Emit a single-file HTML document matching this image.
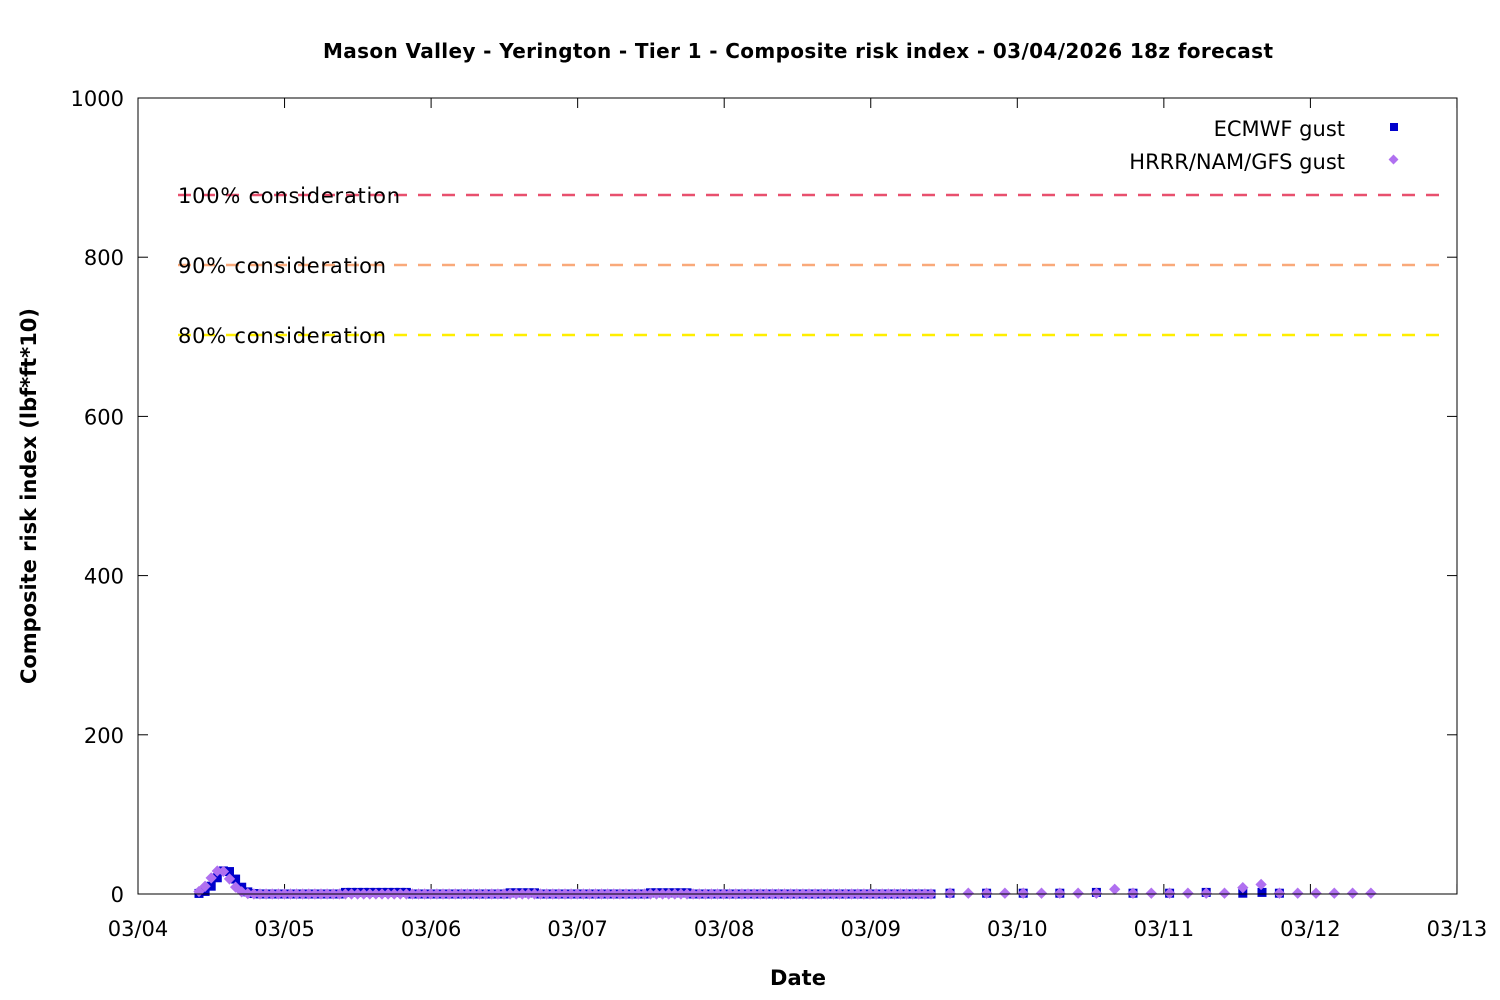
<!DOCTYPE html>
<html><head><style>body{margin:0;background:#fff}svg{display:block}text{font-family:"DejaVu Sans","Liberation Sans",sans-serif}</style></head>
<body>
<svg id="s" width="1500" height="1000" xmlns="http://www.w3.org/2000/svg">
<rect width="1500" height="1000" fill="#fff"/>
<text x="798" y="58" text-anchor="middle" font-size="20" font-weight="bold" textLength="950">Mason Valley - Yerington - Tier 1 - Composite risk index - 03/04/2026 18z forecast</text>
<text x="798" y="985" text-anchor="middle" font-size="21" font-weight="bold">Date</text>
<text transform="translate(36,496) rotate(-90)" text-anchor="middle" font-size="21" font-weight="bold" textLength="376">Composite risk index (lbf*ft*10)</text>
<g id="g"></g>
<rect x="138" y="98" width="1319" height="796" fill="none" stroke="#000" stroke-width="1"/>
<g font-size="21">
<text x="1345" y="136" text-anchor="end">ECMWF gust</text>
<text x="1345" y="169" text-anchor="end">HRRR/NAM/GFS gust</text>
</g>
<rect x="1390" y="123" width="8" height="8" fill="#0000cc"/>
<rect x="1390" y="156" width="7" height="7" fill="#b070f0" transform="rotate(45 1393.5 159.5)"/>
</svg>
<script>
const g=document.getElementById('g');let h='';
const X0=138,DX=146.55,Y0=894,SY=0.796;
const y=v=>Y0-v*SY;
for(let v=0;v<=1000;v+=200){const yy=y(v);h+=`<line x1="138" x2="148" y1="${yy}" y2="${yy}" stroke="#000"/><line x1="1447" x2="1457" y1="${yy}" y2="${yy}" stroke="#000"/><text x="124" y="${yy+8}" text-anchor="end" font-size="21">${v}</text>`;}
for(let d=0;d<=9;d++){const xx=X0+d*DX;h+=`<line x1="${xx}" x2="${xx}" y1="894" y2="884" stroke="#000"/><line x1="${xx}" x2="${xx}" y1="98" y2="108" stroke="#000"/><text x="${xx}" y="936" text-anchor="middle" font-size="21">03/${String(4+d).padStart(2,'0')}</text>`;}
[[195,'#e8506e','100% consideration',222],[265,'#f9a97a','90% consideration',208],[335,'#ffee00','80% consideration',208]].forEach(([yy,c,t,w])=>{h+=`<line x1="178" x2="1442" y1="${yy}" y2="${yy}" stroke="${c}" stroke-width="2.5" stroke-dasharray="13,11"/><text x="178" y="${yy+8}" font-size="21" textLength="${w}">${t}</text>`;});
function hump(x,sh){const p=(x-(220+sh))/14;return x<199?0:Math.max(0,30*Math.exp(-p*p));}
const sq=(x,v)=>`<rect x="${x-4.5}" y="${y(v)-4.5}" width="9" height="9" fill="#0000cc"/>`;
const dm=(x,v)=>`<rect x="${x-4}" y="${y(v)-4}" width="8" height="8" fill="#b070f0" transform="rotate(45 ${x} ${y(v)})"/>`;
let E='',H='';
for(let x=199;x<=935;x+=6.1){let ve=hump(x,6),vh=hump(x,0);
 if(x>340&&x<410)ve+=2;if(x>505&&x<540)ve+=1.5;if(x>650&&x<690)ve+=1.5;
 E+=sq(x,ve);H+=dm(x,vh);}
for(let x=950;x<=1375;x+=18.3){let i=Math.round((x-950)/18.3);
 if(x<1300&&i%2==0)E+=sq(x,[1,2,1,0,0,1,0,4,2,0,1,0,1][i%13]||1);
 let v=1;if(Math.abs(x-1115)<8)v=6;if(Math.abs(x-1243)<8)v=8;if(Math.abs(x-1262)<8)v=12;H+=dm(x,v);}
E+=sq(1262,2);
g.innerHTML=h+E+H;
</script>
</body></html>
